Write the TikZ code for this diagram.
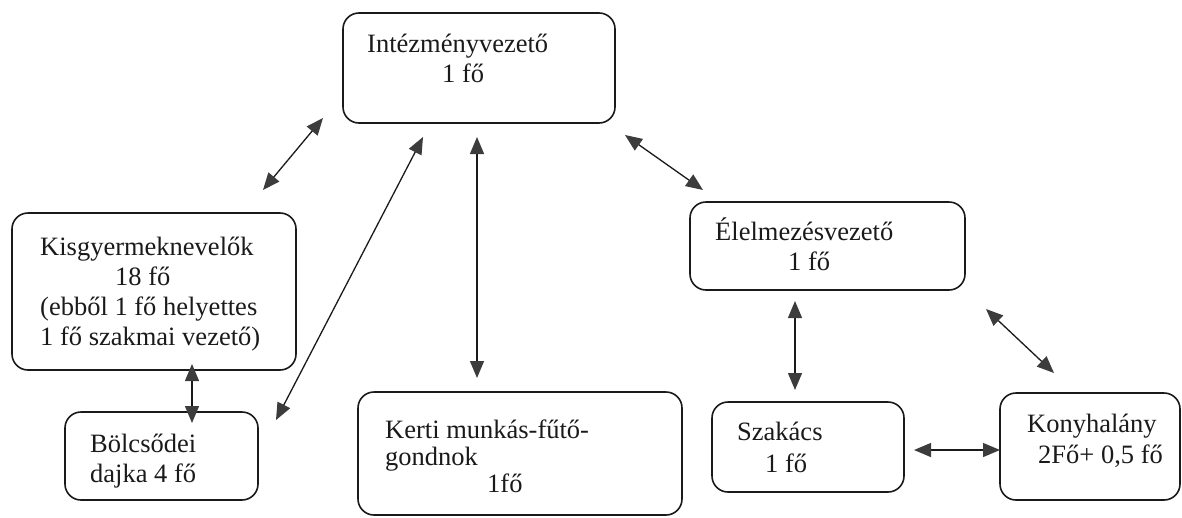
\documentclass[tikz,border=0pt]{standalone}
\usepackage{fontspec}
\setmainfont{Liberation Serif}
\usetikzlibrary{arrows.meta}
\definecolor{ink}{HTML}{1A1A1A}
\definecolor{tipc}{HTML}{3C3C3C}
\tikzset{
  box/.style={draw=ink, line width=1.6pt, rounded corners=16pt, inner sep=0pt, outer sep=0pt, anchor=north west},
  txt/.style={inner sep=0pt, anchor=base west, text=ink, font=\fontsize{26.5}{30}\selectfont},
  arr/.style={draw=ink, line width=1.3pt, {Triangle[length=17pt,width=14pt,fill=tipc,color=tipc]}-{Triangle[length=17pt,width=14pt,fill=tipc,color=tipc]}}
}
\begin{document}
\begin{tikzpicture}[x=1pt,y=-1pt]
\useasboundingbox (0,0) rectangle (1182,517);
% boxes
\node[box, minimum width=272pt, minimum height=110pt] (int) at (343,13) {};
\node[box, minimum width=284pt, minimum height=157pt] (kis) at (12,213) {};
\node[box, minimum width=193pt, minimum height=88pt] (bol) at (65,412) {};
\node[box, minimum width=324pt, minimum height=123pt] (ker) at (358,392) {};
\node[box, minimum width=275pt, minimum height=88pt] (ele) at (690,202) {};
\node[box, minimum width=192pt, minimum height=90pt] (sza) at (712,402) {};
\node[box, minimum width=180pt, minimum height=107pt] (kon) at (1000,393) {};
% texts
\node[txt] (intA) at (367,52) {Intézményvezető};
\node[txt] (intB) at (442,82) {1 fő};
\node[txt] (kisA) at (40,255) {Kisgyermeknevelők};
\node[txt] (kisB) at (115,285) {18 fő};
\node[txt] (kisC) at (40,315) {(ebből 1 fő helyettes};
\node[txt] (kisD) at (40,345) {1 fő szakmai vezető)};
\node[txt] (bolA) at (90,452) {Bölcsődei};
\node[txt] (bolB) at (90,482) {dajka 4 fő};
\node[txt] (kerA) at (385,438) {Kerti munkás-fűtő-};
\node[txt] (kerB) at (385,465) {gondnok};
\node[txt] (kerC) at (487,492) {1fő};
\node[txt] (eleA) at (715,240) {Élelmezésvezető};
\node[txt] (eleB) at (788,270) {1 fő};
\node[txt] (szaA) at (737,440) {Szakács};
\node[txt] (szaB) at (765,472) {1 fő};
\node[txt] (konA) at (1027,432) {Konyhalány};
\node[txt] (konB) at (1038,463) {2Fő+ 0,5 fő};
% arrow end points
\coordinate (a1s) at (323,118); \coordinate (a1e) at (263,190);
\coordinate (a2s) at (423,137); \coordinate (a2e) at (276,420);
\coordinate (a3s) at (477,137); \coordinate (a3e) at (477,378);
\coordinate (a4s) at (625,135); \coordinate (a4e) at (703,190);
\coordinate (a5s) at (192,364); \coordinate (a5e) at (192,423);
\coordinate (a6s) at (795,301); \coordinate (a6e) at (795,390);
\coordinate (a7s) at (986,309); \coordinate (a7e) at (1054,373);
\coordinate (a8s) at (914,450); \coordinate (a8e) at (1000,450);
\draw[arr] (a1s) -- (a1e);
\draw[arr] (a2s) -- (a2e);
\draw[arr] (a3s) -- (a3e);
\draw[arr] (a4s) -- (a4e);
\draw[arr] (a5s) -- (a5e);
\draw[arr] (a6s) -- (a6e);
\draw[arr] (a7s) -- (a7e);
\draw[arr] (a8s) -- (a8e);
\end{tikzpicture}
\end{document}
